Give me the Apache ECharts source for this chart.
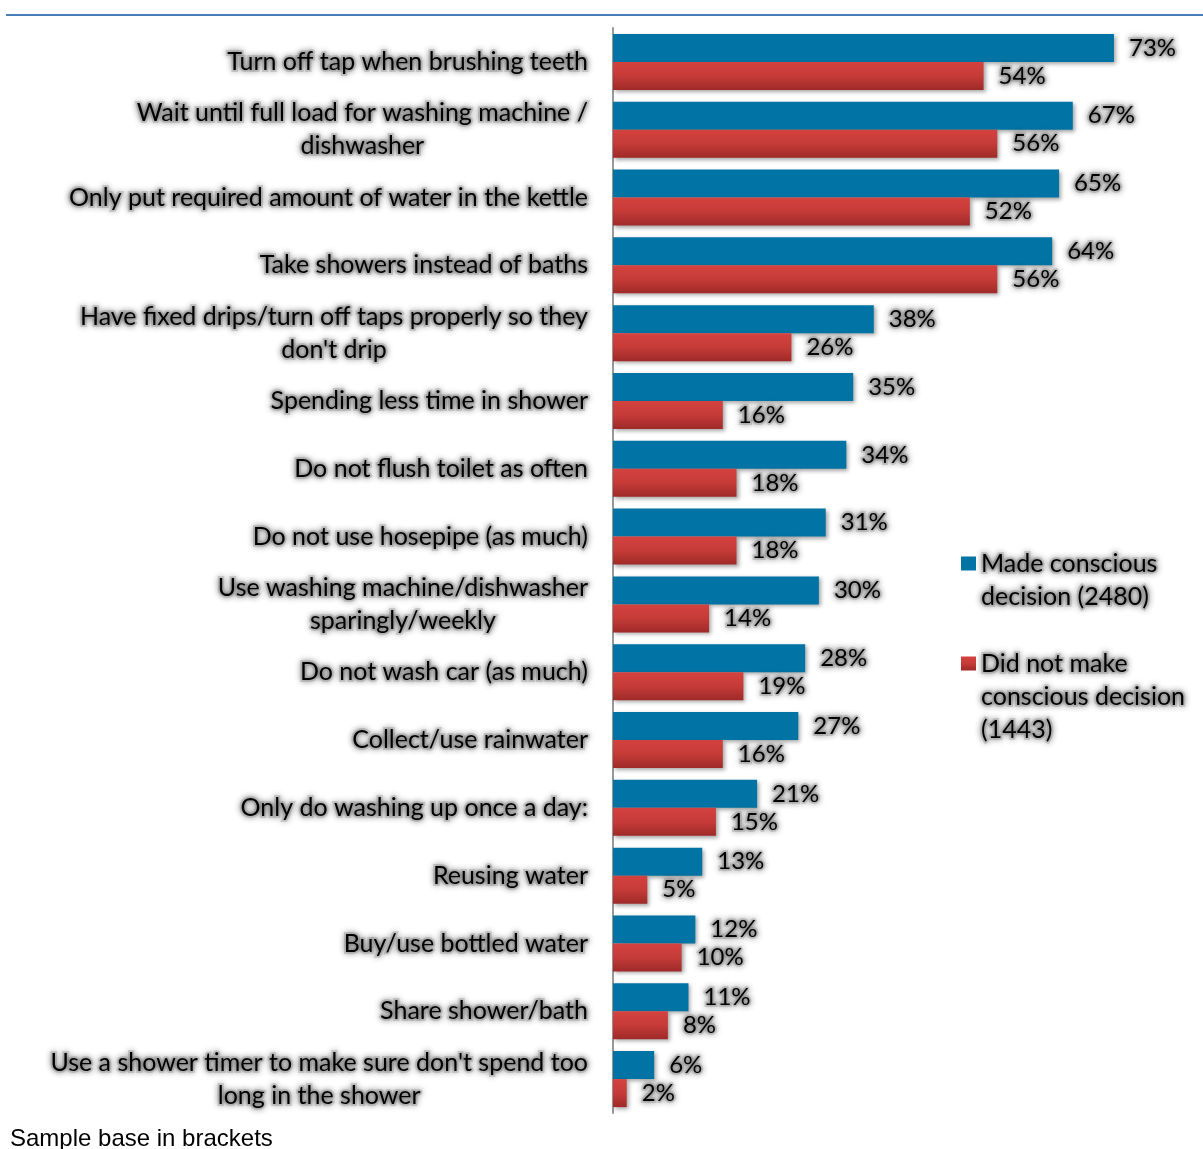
<!DOCTYPE html>
<html>
<head>
<meta charset="utf-8">
<script src="https://cdn.jsdelivr.net/npm/echarts@6/dist/echarts.min.js"></script>
<style>
  html, body { margin: 0; padding: 0; background: #fff; }
  #chart { width: 1203px; height: 1149px; }
</style>
</head>
<body>
<div id="chart"></div>
<script>
// Water-saving actions, share of respondents by group
const categories = [
  "Turn off tap when brushing teeth",
  "Wait until full load for washing machine /\ndishwasher",
  "Only put required amount of water in the kettle",
  "Take showers instead of baths",
  "Have fixed drips/turn off taps properly so they\ndon't drip",
  "Spending less time in shower",
  "Do not flush toilet as often",
  "Do not use hosepipe (as much)",
  "Use washing machine/dishwasher\nsparingly/weekly",
  "Do not wash car (as much)",
  "Collect/use rainwater",
  "Only do washing up once a day:",
  "Reusing water",
  "Buy/use bottled water",
  "Share shower/bath",
  "Use a shower timer to make sure don't spend too\nlong in the shower"
];
const madeDecision = [73, 67, 65, 64, 38, 35, 34, 31, 30, 28, 27, 21, 13, 12, 11, 6];
const noDecision   = [54, 56, 52, 56, 26, 16, 18, 18, 14, 19, 16, 15, 5, 10, 8, 2];
const seriesNames = ["Made conscious decision (2480)", "Did not make conscious decision (1443)"];
const legendLines = {
  "Made conscious decision (2480)": ["Made conscious", "decision (2480)"],
  "Did not make conscious decision (1443)": ["Did not make", "conscious decision", "(1443)"]
};

const FONT = "Lato";
const LINE = 33;
// soft grey halo behind the text
const glow = {
  textBorderColor: "rgba(150,150,150,0.35)",
  textBorderWidth: 4,
  textShadowColor: "rgba(0,0,0,0.55)",
  textShadowBlur: 6
};

// Legend text: blank lines in front keep the swatch level with the first line
function legendFormatter(name) {
  const lines = legendLines[name];
  return new Array(lines.length - 1).fill("").concat(lines).join("\n");
}

const chart = echarts.init(document.getElementById("chart"), null, { renderer: "canvas" });

const valueLabel = Object.assign({
  show: true,
  position: "right",
  distance: 15,
  formatter: "{c}%",
  color: "#000",
  fontFamily: FONT,
  fontSize: 24
}, glow);

const barShadow = { shadowColor: "rgba(0,0,0,0.35)", shadowBlur: 4, shadowOffsetX: 2, shadowOffsetY: 2 };

const legendBase = {
  orient: "vertical",
  left: 961,
  padding: 0,
  itemWidth: 15,
  itemHeight: 14,
  icon: "rect",
  formatter: legendFormatter,
  textStyle: Object.assign({ color: "#000", fontFamily: FONT, fontSize: 25, lineHeight: LINE }, glow)
};

chart.setOption({
  backgroundColor: "#fff",
  animation: false,
  graphic: [
    { type: "line", shape: { x1: 6, y1: 15, x2: 1203, y2: 15 }, style: { stroke: "#4A7EBB", lineWidth: 2 } },
    { type: "text", left: 10, top: 1127, style: { text: "Sample base in brackets", font: "24px 'Liberation Sans'", fill: "#000" } }
  ],
  grid: { left: 613, top: 28, width: 549, height: 1085, containLabel: false },
  xAxis: { type: "value", min: 0, max: 80, show: false },
  yAxis: {
    type: "category",
    data: categories,
    inverse: true,
    axisLine: { show: true, lineStyle: { color: "#999", width: 2 } },
    axisTick: { show: false },
    axisLabel: Object.assign({
      margin: 25,
      align: "right",
      color: "#000",
      fontFamily: FONT,
      fontSize: 25,
      lineHeight: LINE,
      formatter: v => v.split("\n").map(l => "{c|" + l + "}").join("\n"),
      rich: { c: Object.assign({ align: "center", fontFamily: FONT, fontSize: 25, lineHeight: LINE, color: "#000" }, glow) }
    }, glow)
  },
  legend: [
    Object.assign({}, legendBase, { top: 514, data: [seriesNames[0]] }),
    Object.assign({}, legendBase, { top: 581, data: [seriesNames[1]] })
  ],
  series: [
    {
      name: seriesNames[0],
      type: "bar",
      data: madeDecision,
      barWidth: 28,
      barGap: "0%",
      itemStyle: Object.assign({ color: "#0174A5" }, barShadow),
      label: valueLabel
    },
    {
      name: seriesNames[1],
      type: "bar",
      data: noDecision,
      barWidth: 28,
      barGap: "0%",
      itemStyle: Object.assign({
        color: new echarts.graphic.LinearGradient(0, 0, 0, 1, [
          { offset: 0, color: "#D4423F" },
          { offset: 0.5, color: "#C53B38" },
          { offset: 1, color: "#9E2A28" }
        ])
      }, barShadow),
      label: valueLabel
    }
  ]
});
</script>
</body>
</html>
